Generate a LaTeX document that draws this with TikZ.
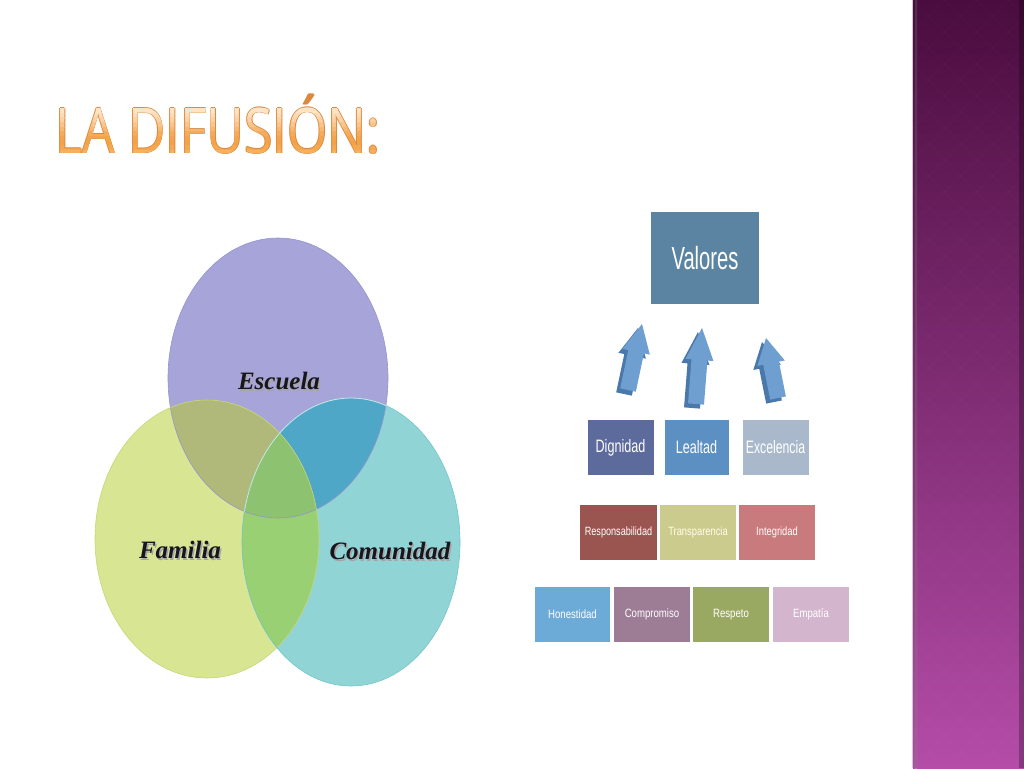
\documentclass[tikz,border=0pt]{standalone}
\usepackage{fontspec}
\usepackage{graphicx}
\setmainfont{Liberation Sans}
\newfontfamily\titlefont{Open Sans}
\newfontfamily\vennfont{Liberation Serif}
\usetikzlibrary{calc}

\definecolor{escC}{HTML}{A6A4D8}
\definecolor{famC}{HTML}{D8E592}
\definecolor{comC}{HTML}{90D4D6}
\definecolor{efC}{HTML}{B0B979}
\definecolor{ecC}{HTML}{4FA7C7}
\definecolor{fcC}{HTML}{98D073}
\definecolor{efcC}{HTML}{8CC270}
\definecolor{escE}{HTML}{9694CC}
\definecolor{famE}{HTML}{C8D678}
\definecolor{comE}{HTML}{70C6CA}
\definecolor{vtext}{HTML}{16161E}
\definecolor{toutline}{HTML}{D98A3E}
\definecolor{valC}{HTML}{5A84A2}
\definecolor{digC}{HTML}{5D6A9C}
\definecolor{leaC}{HTML}{5C90C2}
\definecolor{excC}{HTML}{A9B9CB}
\definecolor{resC}{HTML}{9A5550}
\definecolor{traC}{HTML}{CCCB8E}
\definecolor{intC}{HTML}{C97A7C}
\definecolor{honC}{HTML}{6CABD8}
\definecolor{comprC}{HTML}{9D7D95}
\definecolor{respC}{HTML}{9AA962}
\definecolor{empC}{HTML}{D4B5CE}
\definecolor{arrfront}{HTML}{6E9FD0}
\definecolor{arrside}{HTML}{4A78AA}
\definecolor{bartop}{HTML}{4A0C3E}
\definecolor{barmid}{HTML}{782A6A}
\definecolor{barbot}{HTML}{B44CA8}

\newcommand\titletext{\scalebox{0.82}[1]{LA DIFUSIÓN:}}
\newcommand\arrpoly[3]{%
  \coordinate (hb) at ($(#1)!0.58!(#2)$);
  \fill[#3] ($(#1)!8pt!90:(#2)$) -- ($(#1)!8pt!-90:(#2)$) -- ($(hb)!8pt!-90:(#2)$)
    -- ($(hb)!14pt!-90:(#2)$) -- (#2) -- ($(hb)!14pt!90:(#2)$) -- ($(hb)!8pt!90:(#2)$) -- cycle;}
\newcommand\blockarr[2]{%
  \coordinate (ab) at #1; \coordinate (at) at #2;
  \coordinate (ab2) at ($(ab)+(-4,4)$); \coordinate (at2) at ($(at)+(-4,4)$);
  \arrpoly{ab2}{at2}{arrside}
  \arrpoly{ab}{at}{arrfront}}

\tikzset{
  titlest/.style={anchor=base west, inner sep=0pt, font=\titlefont\fontsize{63}{63}\selectfont},
  vlabel/.style={inner sep=0pt, text=vtext, font=\vennfont\bfseries\itshape\fontsize{25}{25}\selectfont},
  vshadow/.style={inner sep=0pt, text=black!35, font=\vennfont\bfseries\itshape\fontsize{25}{25}\selectfont},
  valbox/.style={inner sep=0pt, text=white},
}

\begin{document}
\begin{tikzpicture}[x=1pt,y=-1pt]
\useasboundingbox (0,0) rectangle (1024,768);
\fill[white] (0,0) rectangle (1024,768);

% purple side bar
\fill[top color=bartop, middle color=barmid, bottom color=barbot] (913,0) rectangle (1024,768);
\begin{scope}
  \clip (913,0) rectangle (1024,768);
  \foreach \k in {-24,...,28} {
    \draw[white, opacity=0.025, line width=0.8pt] ({913+\k*32},0) -- ++(768,768);
    \draw[white, opacity=0.025, line width=0.8pt] ({913+\k*32},0) -- ++(-768,768);
  }
\end{scope}
\fill[top color=bartop!80!white, bottom color=barbot!70!white, opacity=0.7] (915,0) rectangle (917,768);
\fill[black, opacity=0.25] (1019,0) rectangle (1024,768);
\fill[black!20] (911.5,0) rectangle (913,768);

% title
\coordinate (tpos) at (55,153);
\foreach \dx/\dy [count=\n] in {0.8/0, -0.8/0, 0/0.8, 0/-0.8} {
  \node[titlest, text=toutline, name=tout\n] at ($(tpos)+(\dx,\dy)$) {\titletext};
}
\foreach \c [count=\i from 0] in {FCE3C6,FCE4C8,FBDCB8,FAD2A6,F9C58C,F7B874,F5AB5C,F4A44E,F4A24A,F5A850,F6B060,F7B86C} {
  \definecolor{tband}{HTML}{\c}
  \begin{scope}
    \clip (40,{104+\i*4.6}) rectangle (420,{104+(\i+1)*4.6+0.4});
    \node[titlest, text=tband, name=tband\i] at (tpos) {\titletext};
  \end{scope}
}

% Venn diagram
\fill[escC] (278,378) ellipse [x radius=110pt, y radius=140pt];
\fill[famC] (207,539) ellipse [x radius=112pt, y radius=139pt];
\fill[comC] (351,542) ellipse [x radius=109pt, y radius=144pt];
\begin{scope}
  \clip (278,378) ellipse [x radius=110pt, y radius=140pt];
  \fill[efC] (207,539) ellipse [x radius=112pt, y radius=139pt];
  \fill[ecC] (351,542) ellipse [x radius=109pt, y radius=144pt];
\end{scope}
\begin{scope}
  \clip (207,539) ellipse [x radius=112pt, y radius=139pt];
  \fill[fcC] (351,542) ellipse [x radius=109pt, y radius=144pt];
  \clip (278,378) ellipse [x radius=110pt, y radius=140pt];
  \fill[efcC] (351,542) ellipse [x radius=109pt, y radius=144pt];
\end{scope}
\draw[escE, line width=0.6pt] (278,378) ellipse [x radius=110pt, y radius=140pt];
\draw[famE, line width=0.6pt] (207,539) ellipse [x radius=112pt, y radius=139pt];
\draw[comE, line width=0.6pt] (351,542) ellipse [x radius=109pt, y radius=144pt];
\begin{scope}
  \clip (278,378) ellipse [x radius=110pt, y radius=140pt];
  \draw[white, opacity=0.6, line width=0.8pt] (351,542) ellipse [x radius=109pt, y radius=144pt];
\end{scope}

\node[vshadow] (escS) at (280.5,383) {Escuela};
\node[vlabel] (esc) at (279,381) {Escuela};
\node[vshadow] (famS) at (181.5,552) {Familia};
\node[vlabel] (fam) at (180,550) {Familia};
\node[vshadow] (comS) at (391.5,553) {Comunidad};
\node[vlabel] (com) at (390,551) {Comunidad};

% values hierarchy
\node[valbox, fill=valC, minimum width=108pt, minimum height=92pt] (val) at (705,258)
  {\fontsize{32}{32}\selectfont\scalebox{0.63}[1]{Valores}};

\blockarr{(628,390)}{(642,324)}
\blockarr{(696,404)}{(702,328)}
\blockarr{(778,398)}{(766,338)}

\tikzset{r1/.style={valbox, minimum height=55pt, font=\fontsize{18}{18}\selectfont}}
\node[r1, fill=digC, minimum width=66pt] (dig) at (620.5,447.5) {\scalebox{0.7}[1]{Dignidad}};
\node[r1, fill=leaC, minimum width=64pt] (lea) at (696.5,447.5) {\scalebox{0.7}[1]{Lealtad}};
\node[r1, fill=excC, minimum width=66pt] (exc) at (775.5,447.5) {\scalebox{0.68}[1]{Excelencia}};

\tikzset{r2/.style={valbox, minimum height=55pt, minimum width=76pt, font=\fontsize{12}{12}\selectfont}}
\node[r2, fill=resC, minimum width=77pt] (res) at (618.5,532.5) {\scalebox{0.76}[1]{Responsabilidad}};
\node[r2, fill=traC, text=white!92!yellow] (tra) at (698,532.5) {\scalebox{0.78}[1]{Transparencia}};
\node[r2, fill=intC] (int) at (777,532.5) {\scalebox{0.78}[1]{Integridad}};

\node[r2, fill=honC, minimum width=75pt] (hon) at (572.5,614.5) {\scalebox{0.8}[1]{Honestidad}};
\node[r2, fill=comprC] (compr) at (652,614.5) {\scalebox{0.8}[1]{Compromiso}};
\node[r2, fill=respC] (resp) at (731,614.5) {\scalebox{0.8}[1]{Respeto}};
\node[r2, fill=empC] (emp) at (811,614.5) {\scalebox{0.8}[1]{Empatía}};
\end{tikzpicture}
\end{document}
